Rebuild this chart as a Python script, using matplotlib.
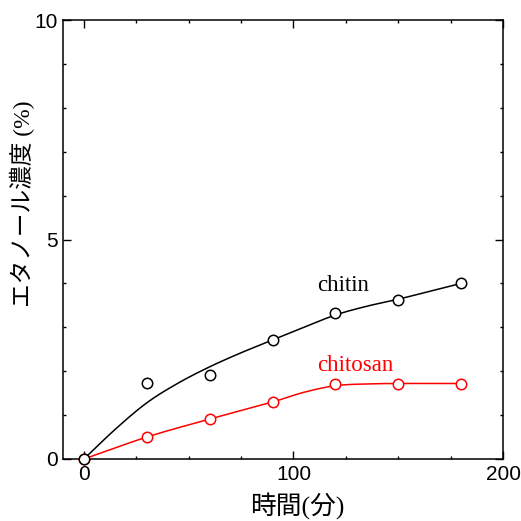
import numpy as np
import matplotlib
matplotlib.use("Agg")
import matplotlib.pyplot as plt
from matplotlib.ticker import MultipleLocator

# measured data
time_min = [0, 30, 60, 90, 120, 150, 180]
chitin = [0.0, 1.72, 1.91, 2.71, 3.33, 3.62, 4.0]
chitosan = [0.0, 0.5, 0.91, 1.3, 1.71, 1.71, 1.71]

# fitted curves (knots)
chitin_fit_x = [0, 15, 30, 45, 60, 75, 90, 105, 120, 135, 150, 165, 180]
chitin_fit_y = [0.0, 0.68, 1.28, 1.73, 2.1, 2.42, 2.71, 3.0, 3.28, 3.48, 3.64, 3.82, 4.0]
chitosan_fit_x = [0, 30, 60, 90, 105, 120, 135, 150, 165, 180]
chitosan_fit_y = [0.0, 0.5, 0.91, 1.3, 1.52, 1.67, 1.71, 1.72, 1.72, 1.72]

x_ticks = [0, 100, 200]
y_ticks = [0, 5, 10]


def smooth(xs, ys, n=20):
    """Catmull-Rom rendering through the knots."""
    xs = np.asarray(xs, float)
    ys = np.asarray(ys, float)
    P = np.column_stack([xs, ys])
    P = np.vstack([2 * P[0] - P[1], P, 2 * P[-1] - P[-2]])
    out = []
    t = np.linspace(0, 1, n, endpoint=False)[:, None]
    for i in range(1, len(P) - 2):
        p0, p1, p2, p3 = P[i - 1], P[i], P[i + 1], P[i + 2]
        seg = 0.5 * ((2 * p1) + (-p0 + p2) * t + (2 * p0 - 5 * p1 + 4 * p2 - p3) * t ** 2
                     + (-p0 + 3 * p1 - 3 * p2 + p3) * t ** 3)
        out.append(seg)
    out.append(P[-2][None, :])
    out = np.vstack(out)
    return out[:, 0], out[:, 1]


fig = plt.figure(figsize=(5.21, 5.21), dpi=100)
ax = fig.add_axes([63 / 521, 1 - 459 / 521, 440 / 521, 439 / 521])

red = "#ff0000"
cx, cy = smooth(chitosan_fit_x, chitosan_fit_y)
ax.plot(cx, cy, color=red, lw=1.1, zorder=2)
ax.plot(time_min, chitosan, "o", ms=7.5, mfc="white", mec=red, mew=1.1, zorder=3, clip_on=False)

kx, ky = smooth(chitin_fit_x, chitin_fit_y)
ax.plot(kx, ky, color="black", lw=1.1, zorder=4)
ax.plot(time_min, chitin, "o", ms=7.5, mfc="white", mec="black", mew=1.1, zorder=5, clip_on=False)

ax.set_xlim(-10, 200)
ax.set_ylim(0, 10)
ax.set_xticks(x_ticks)
ax.set_yticks(y_ticks)
ax.xaxis.set_minor_locator(MultipleLocator(25))
ax.yaxis.set_minor_locator(MultipleLocator(1))
ax.tick_params(which="both", direction="in", top=True, right=True, width=1)
ax.tick_params(which="major", length=5.5, labelsize=15, pad=4)
ax.tick_params(which="minor", length=2.5)
for lab in ax.get_xticklabels() + ax.get_yticklabels():
    lab.set_fontfamily("Liberation Sans")
for s in ax.spines.values():
    s.set_linewidth(1.1)

ax.text(111.5, 3.83, "chitin", fontsize=16.5, family="Liberation Serif", color="black")
ax.text(111.5, 2.0, "chitosan", fontsize=16.5, family="Liberation Serif", color=red)

fig.text(297.5 / 521, 1 - 506 / 521, "時間(分)", ha="center", va="center", fontsize=18.5,
         family=["Liberation Serif", "Noto Sans CJK JP"])
fig.text(22 / 521, 1 - 204 / 521, "エタノール濃度 (%)", ha="center", va="center", fontsize=17,
         rotation=90, family=["Liberation Serif", "Noto Sans CJK JP"])

fig.savefig("out.png", dpi=100)
